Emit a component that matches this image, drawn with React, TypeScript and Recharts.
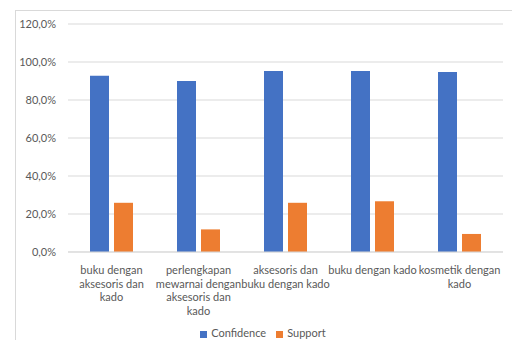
import { BarChart, Bar, XAxis, YAxis, CartesianGrid, Legend } from 'recharts';

// data
const categories = [
  'buku dengan aksesoris dan kado',
  'perlengkapan mewarnai dengan aksesoris dan kado',
  'aksesoris dan buku dengan kado',
  'buku dengan kado',
  'kosmetik dengan kado',
];
// how each category label wraps under its bars
const categoryLines = [
  ['buku dengan', 'aksesoris dan', 'kado'],
  ['perlengkapan', 'mewarnai dengan', 'aksesoris dan', 'kado'],
  ['aksesoris dan', 'buku dengan kado'],
  ['buku dengan kado'],
  ['kosmetik dengan', 'kado'],
];
const confidence = [0.928, 0.9, 0.953, 0.953, 0.947];
const support = [0.259, 0.119, 0.259, 0.267, 0.095];
const yTicks = [0, 0.2, 0.4, 0.6, 0.8, 1.0, 1.2];

const data = categories.map((name, i) => ({
  name,
  Confidence: confidence[i],
  Support: support[i],
}));

const FONT = 'Lato, "Liberation Sans", sans-serif';
const TEXT = '#595959';

const pct = (v: number) => `${(v * 100).toFixed(1).replace('.', ',')}%`;

function CategoryTick(props: any) {
  const { x, y, index } = props;
  const lines: string[] = categoryLines[index] || [];
  return (
    <text x={x} y={y} textAnchor="middle" fill={TEXT} fontSize={11} fontFamily={FONT}>
      {lines.map((l, i) => (
        <tspan key={i} x={x} dy={i === 0 ? 20 : 13.5}>
          {l}
        </tspan>
      ))}
    </text>
  );
}

export default function App() {
  return (
    <div
      style={{
        position: 'absolute',
        left: 0,
        top: 0,
        width: 512,
        height: 340,
        overflow: 'hidden',
        background: '#fff',
        fontFamily: FONT,
      }}
    >
      <div
        style={{
          position: 'absolute',
          left: 15,
          top: 10,
          width: 600,
          height: 400,
          border: '1px solid #d9d9d9',
        }}
      />
      {/* legend height gets added to the bottom offset, so bottom margin is smaller */}
      <BarChart
        width={512}
        height={340}
        data={data}
        margin={{ top: 24, right: 9, left: 0, bottom: 45 }}
        barGap={5}
        barSize={19}
        style={{ position: 'absolute', left: 0, top: 0 }}
      >
        <CartesianGrid vertical={false} stroke="#d9d9d9" />
        <XAxis
          dataKey="name"
          axisLine={{ stroke: '#d9d9d9' }}
          tickLine={false}
          tickSize={0}
          interval={0}
          tick={<CategoryTick />}
        />
        <YAxis
          domain={[0, 1.2]}
          ticks={yTicks}
          width={68}
          axisLine={false}
          tickLine={false}
          tickSize={0}
          tickMargin={12}
          tickFormatter={pct}
          tick={{ fill: TEXT, fontSize: 11, fontFamily: FONT }}
        />
        <Legend
          layout="horizontal"
          iconType="square"
          iconSize={7}
          wrapperStyle={{ position: 'absolute', left: 160, width: 216, top: 326, fontSize: 11 }}
          formatter={(value: string) => <span style={{ color: TEXT }}>{value}</span>}
        />
        <Bar dataKey="Confidence" fill="#4472C4" isAnimationActive={false} />
        <Bar dataKey="Support" fill="#ED7D31" isAnimationActive={false} />
      </BarChart>
    </div>
  );
}
